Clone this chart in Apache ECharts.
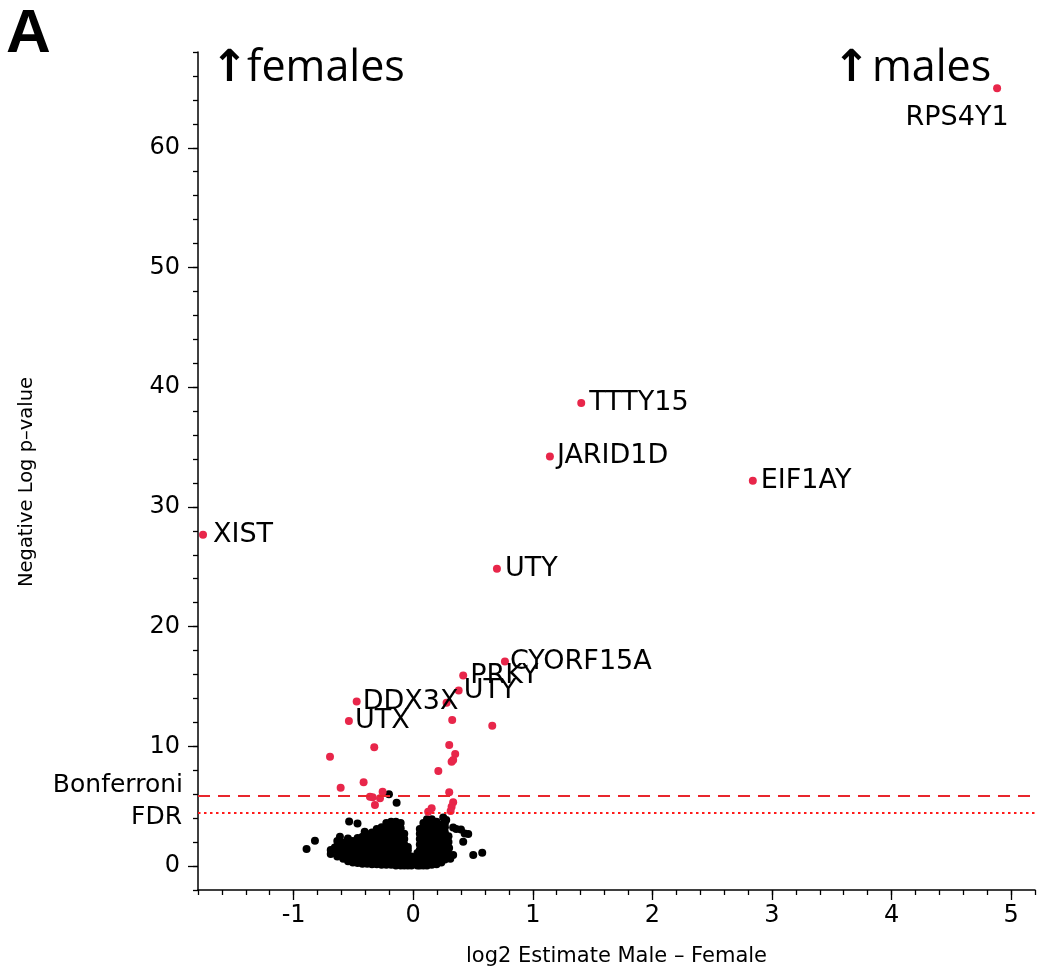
<!DOCTYPE html>
<html>
<head>
<meta charset="utf-8">
<script src="https://cdn.jsdelivr.net/npm/echarts@6/dist/echarts.min.js"></script>
<style>
html,body{margin:0;padding:0;background:#fff;overflow:hidden;}
#chart{width:1050px;height:969px;}
</style>
</head>
<body>
<div id="chart"></div>
<script>
// ---- data ----
const xMajorTicks = [-1, 0, 1, 2, 3, 4, 5];
const yMajorTicks = [0, 10, 20, 30, 40, 50, 60];
const bonferroni = 5.87;
const fdr = 4.46;

// labelled significant genes
const geneNames = ['RPS4Y1', 'TTTY15', 'JARID1D', 'EIF1AY', 'XIST', 'UTY', 'CYORF15A', 'PRKY', 'UTY', 'DDX3X', 'UTX'];
const geneX = [4.883, 1.405, 1.143, 2.84, -1.758, 0.70, 0.767, 0.418, 0.38, -0.473, -0.538];
const geneY = [64.97, 38.69, 34.22, 32.19, 27.68, 24.83, 17.08, 15.91, 14.66, 13.74, 12.12];

// other significant (red) points
const sigPoints = [
  [0.279, 13.65], [0.326, 12.21], [0.661, 11.71], [-0.326, 9.92], [-0.696, 9.14],
  [0.301, 10.12], [0.351, 9.36], [0.321, 8.72], [0.334, 8.85], [0.21, 7.95],
  [-0.607, 6.55], [-0.415, 7.0], [-0.362, 5.79], [-0.34, 5.74], [-0.278, 5.66],
  [-0.256, 6.21], [-0.32, 5.10], [0.301, 6.16], [0.334, 5.33], [0.321, 4.96],
  [0.313, 4.6], [0.154, 4.82], [0.125, 4.54]
];

// non-significant (black) points
const bgPoints = [
  // isolated
  [-0.203, 6.0], [-0.139, 5.29], [-0.536, 3.73], [-0.466, 3.56], [-0.406, 2.87],
  [-0.613, 2.45], [-0.546, 2.31], [-0.822, 2.11], [-0.892, 1.42], [-0.656, 1.56],
  [-0.546, 0.58], [0.251, 4.06], [0.334, 3.22], [0.399, 3.06], [0.46, 2.67],
  [0.418, 2.02], [0.502, 0.92], [0.577, 1.11], [0.334, 0.92], [0.276, 3.84],
  [0.36, 3.1], [0.43, 2.73], [0.30, 1.5], [0.31, 0.6],
  // left lobe
  [-0.69, 1.0], [-0.69, 1.35],
  [-0.635, 0.8], [-0.635, 1.25], [-0.635, 1.7], [-0.635, 2.1],
  [-0.585, 0.6], [-0.585, 1.05], [-0.585, 1.5], [-0.585, 1.95],
  [-0.545, 0.4], [-0.545, 0.85], [-0.545, 1.3], [-0.545, 1.75], [-0.545, 2.15],
  [-0.505, 0.3], [-0.505, 0.75], [-0.505, 1.2], [-0.505, 1.65], [-0.505, 2.1],
  [-0.465, 0.25], [-0.465, 0.7], [-0.465, 1.15], [-0.465, 1.6], [-0.465, 2.05], [-0.465, 2.35],
  [-0.425, 0.2], [-0.425, 0.65], [-0.425, 1.1], [-0.425, 1.55], [-0.425, 2.0], [-0.425, 2.45],
  [-0.385, 0.2], [-0.385, 0.65], [-0.385, 1.1], [-0.385, 1.55], [-0.385, 2.0], [-0.385, 2.45], [-0.385, 2.65],
  [-0.345, 0.15], [-0.345, 0.6], [-0.345, 1.05], [-0.345, 1.5], [-0.345, 1.95], [-0.345, 2.4], [-0.345, 2.8],
  [-0.305, 0.15], [-0.305, 0.6], [-0.305, 1.05], [-0.305, 1.5], [-0.305, 1.95], [-0.305, 2.4], [-0.305, 2.85], [-0.305, 3.1],
  [-0.265, 0.1], [-0.265, 0.55], [-0.265, 1.0], [-0.265, 1.45], [-0.265, 1.9], [-0.265, 2.35], [-0.265, 2.8], [-0.265, 3.25],
  [-0.225, 0.1], [-0.225, 0.55], [-0.225, 1.0], [-0.225, 1.45], [-0.225, 1.9], [-0.225, 2.35], [-0.225, 2.8], [-0.225, 3.25], [-0.225, 3.6],
  [-0.185, 0.1], [-0.185, 0.5], [-0.185, 0.95], [-0.185, 1.4], [-0.185, 1.85], [-0.185, 2.3], [-0.185, 2.75], [-0.185, 3.2], [-0.185, 3.7],
  [-0.145, 0.05], [-0.145, 0.5], [-0.145, 0.95], [-0.145, 1.4], [-0.145, 1.85], [-0.145, 2.3], [-0.145, 2.75], [-0.145, 3.2], [-0.145, 3.7],
  [-0.105, 0.05], [-0.105, 0.45], [-0.105, 0.9], [-0.105, 1.35], [-0.105, 1.8], [-0.105, 2.25], [-0.105, 2.7], [-0.105, 3.15], [-0.105, 3.6],
  [-0.075, 0.05], [-0.075, 0.45], [-0.075, 0.9], [-0.075, 1.35], [-0.075, 1.8], [-0.075, 2.25], [-0.075, 2.7],
  [-0.045, 0.05], [-0.045, 0.4], [-0.045, 0.85], [-0.045, 1.3], [-0.045, 1.6],
  [-0.015, 0.05], [-0.015, 0.4], [-0.015, 0.8],
  // right lobe
  [0.035, 0.05], [0.035, 0.4], [0.035, 0.8], [0.035, 1.1],
  [0.055, 0.05], [0.055, 0.45], [0.055, 0.9], [0.055, 1.35], [0.055, 1.8], [0.055, 2.25], [0.055, 2.7], [0.055, 3.1],
  [0.085, 0.05], [0.085, 0.45], [0.085, 0.9], [0.085, 1.35], [0.085, 1.8], [0.085, 2.25], [0.085, 2.7], [0.085, 3.15], [0.085, 3.6],
  [0.115, 0.05], [0.115, 0.5], [0.115, 0.95], [0.115, 1.4], [0.115, 1.85], [0.115, 2.3], [0.115, 2.75], [0.115, 3.2], [0.115, 3.65], [0.115, 3.9],
  [0.155, 0.1], [0.155, 0.5], [0.155, 0.95], [0.155, 1.4], [0.155, 1.85], [0.155, 2.3], [0.155, 2.75], [0.155, 3.2], [0.155, 3.65], [0.155, 3.9],
  [0.195, 0.15], [0.195, 0.55], [0.195, 1.0], [0.195, 1.45], [0.195, 1.9], [0.195, 2.35], [0.195, 2.8], [0.195, 3.25], [0.195, 3.7],
  [0.235, 0.3], [0.235, 0.75], [0.235, 1.2], [0.235, 1.65], [0.235, 2.1], [0.235, 2.55], [0.235, 3.0], [0.235, 3.45],
  [0.265, 0.55], [0.265, 1.0], [0.265, 1.45], [0.265, 1.9], [0.265, 2.35], [0.265, 2.8], [0.265, 3.25], [0.265, 3.6],
  [0.295, 1.0], [0.295, 2.0], [0.295, 2.5]
];

// ---- chart ----
const RED = '#e8264a';
const xMin = -1.8, xMax = 5.2, yMin = -2, yMax = 68;
const xMinorTicks = [];
for (let i = 0; i <= 35; i++) xMinorTicks.push(Math.round((xMin + i * 0.2) * 10) / 10);
const yMinorTicks = [];
for (let v = yMin; v <= yMax; v += 2) yMinorTicks.push(v);

const labelCfg = [
  {position: 'inside', offset: [-40, 30]},
  {position: 'right', distance: 4},
  {position: 'right', distance: 3},
  {position: 'right', distance: 4},
  {position: 'right', distance: 6},
  {position: 'right', distance: 4},
  {position: 'right', distance: 1},
  {position: 'right', distance: 3},
  {position: 'right', distance: 1},
  {position: 'right', distance: 2},
  {position: 'right', distance: 2}
];

const geneData = geneNames.map((n, i) => ({
  name: n,
  value: [geneX[i], geneY[i]],
  label: Object.assign({show: true, formatter: n, color: '#000', fontFamily: 'DejaVu Sans', fontSize: 27}, labelCfg[i])
}));

const tickFont = {fontFamily: 'DejaVu Sans', fontSize: 24, color: '#000'};

const chart = echarts.init(document.getElementById('chart'), null, {renderer: 'canvas'});
chart.setOption({
  animation: false,
  backgroundColor: '#fff',
  grid: {left: 198, right: 15, top: 52, bottom: 79, containLabel: false, outerBoundsMode: 'none'},
  xAxis: [
    {
      type: 'value', min: xMin, max: xMax, position: 'bottom',
      axisLine: {show: true, onZero: false, lineStyle: {color: '#000', width: 1.5}},
      axisTick: {show: true, customValues: xMinorTicks, length: 5, lineStyle: {color: '#000', width: 1.3}},
      axisLabel: {show: false},
      splitLine: {show: false},
      name: 'log2 Estimate Male – Female', nameLocation: 'middle', nameGap: 56,
      nameTextStyle: {fontFamily: 'DejaVu Sans', fontSize: 21, color: '#000'}
    },
    {
      type: 'value', min: xMin, max: xMax, position: 'bottom',
      axisLine: {show: false, onZero: false},
      axisTick: {show: true, customValues: xMajorTicks, length: 10, lineStyle: {color: '#000', width: 1.3}},
      axisLabel: Object.assign({customValues: xMajorTicks, margin: 14}, tickFont),
      splitLine: {show: false}
    }
  ],
  yAxis: [
    {
      type: 'value', min: yMin, max: yMax, position: 'left',
      axisLine: {show: true, onZero: false, lineStyle: {color: '#000', width: 1.5}},
      axisTick: {show: true, customValues: yMinorTicks, length: 5, lineStyle: {color: '#000', width: 1.3}},
      axisLabel: {show: false},
      splitLine: {show: false}
    },
    {
      type: 'value', min: yMin, max: yMax, position: 'left',
      axisLine: {show: false, onZero: false},
      axisTick: {show: true, customValues: yMajorTicks, length: 10, lineStyle: {color: '#000', width: 1.3}},
      axisLabel: Object.assign({customValues: yMajorTicks, margin: 18}, tickFont),
      splitLine: {show: false}
    }
  ],
  series: [
    {
      type: 'scatter', xAxisIndex: 0, yAxisIndex: 0,
      symbolSize: 8, itemStyle: {color: '#000', opacity: 1},
      data: bgPoints, z: 2
    },
    {
      type: 'scatter', xAxisIndex: 0, yAxisIndex: 0,
      symbolSize: 8, itemStyle: {color: RED, opacity: 1},
      data: sigPoints, z: 3,
      markLine: {
        silent: true, symbol: 'none', animation: false,
        label: {show: false},
        data: [
          {yAxis: bonferroni, lineStyle: {type: [12, 8], color: '#e8262d', width: 2}},
          {yAxis: fdr, lineStyle: {type: [2.5, 3.5], color: '#ff1a1a', width: 2}}
        ]
      }
    },
    {
      type: 'scatter', xAxisIndex: 0, yAxisIndex: 0,
      symbolSize: 8, itemStyle: {color: RED, opacity: 1},
      data: geneData, z: 4
    }
  ],
  graphic: [
    {type: 'text', left: 6, top: 4, style: {text: 'A', font: 'bold 62px "Liberation Sans"', fill: '#000'}},
    {type: 'text', left: 211, top: 48, style: {text: '↑', font: 'bold 44px "DejaVu Sans"', fill: '#000'}},
    {type: 'text', left: 247, top: 47, style: {text: 'females', font: '43px "Open Sans"', fill: '#000'}},
    {type: 'text', left: 833, top: 48, style: {text: '↑', font: 'bold 44px "DejaVu Sans"', fill: '#000'}},
    {type: 'text', left: 872, top: 47, style: {text: 'males', font: '43px "Open Sans"', fill: '#000'}},
    {type: 'text', right: 1050 - 183, top: 773, style: {text: 'Bonferroni', font: '25px "DejaVu Sans"', fill: '#000'}},
    {type: 'text', right: 1050 - 182, top: 805, style: {text: 'FDR', font: '25px "DejaVu Sans"', fill: '#000'}},
    {type: 'text', x: 27, y: 482, rotation: Math.PI / 2,
      style: {text: 'Negative Log p–value', font: '19.5px "DejaVu Sans"', fill: '#000', align: 'center', verticalAlign: 'middle'}}
  ]
});
</script>
</body>
</html>
